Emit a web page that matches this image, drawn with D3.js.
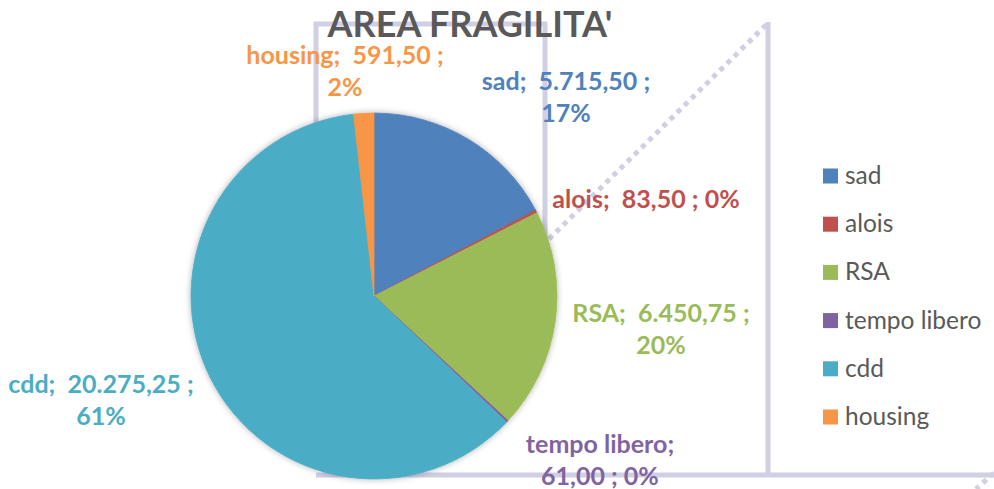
<!DOCTYPE html>
<html>
<head>
<meta charset="utf-8">
<script src="https://cdn.jsdelivr.net/npm/d3@7"></script>
<style>
  html, body { margin: 0; padding: 0; background: #fff; }
  svg { display: block; }
  text { white-space: pre; }
</style>
</head>
<body>
<svg id="chart" width="994" height="489"></svg>
<script>
// ---- data ----
const title = "AREA FRAGILITA'";
const categories = ["sad", "alois", "RSA", "tempo libero", "cdd", "housing"];
const values = [5715.50, 83.50, 6450.75, 61.00, 20275.25, 591.50];
const pctLabels = ["17%", "0%", "20%", "0%", "61%", "2%"];
const colors = ["#4F81BD", "#C0504D", "#9BBB59", "#8064A2", "#4BACC6", "#F79646"];

// ---- layout ----
const W = 994, H = 489;
const cx = 374, cy = 296, R = 183;
// label anchor offsets from pie centre (dx, first baseline dy), and how the label wraps
const labelLayout = [
  { dx: 192, dy: -206, split: "pct" },
  { dx: 272, dy: -88, split: "none" },
  { dx: 287, dy: 26, split: "pct" },
  { dx: 226, dy: 157, split: "name" },
  { dx: -273, dy: 97, split: "pct" },
  { dx: -29, dy: -232, split: "pct" }
];
const lineGap = 32;
const fontFamily = "Lato, 'Open Sans', sans-serif";

const locale = d3.formatLocale({ decimal: ",", thousands: ".", grouping: [3], currency: ["€", ""] });
const fmt = locale.format(",.2f");

const svg = d3.select("#chart");

// shadow filter
const defs = svg.append("defs");
const f = defs.append("filter").attr("id", "shadow").attr("x", "-20%").attr("y", "-20%").attr("width", "140%").attr("height", "140%");
f.append("feDropShadow").attr("dx", 0).attr("dy", 0).attr("stdDeviation", 3).attr("flood-color", "#000").attr("flood-opacity", 0.3);

// background wall/floor frame lines (decorative)
const frame = svg.append("g").attr("stroke", "#D0CFE3").attr("fill", "none").attr("stroke-width", 5);
frame.append("path").attr("d", "M316,22 V300 M314,24 H547 M545,22 V300 M768,22 V476 M316,475 H994");
frame.append("path").attr("d", "M549,239 L768,23").attr("stroke-dasharray", "5,5");
frame.append("path").attr("d", "M994,473 L976,489").attr("stroke-dasharray", "5,5");

// pie
const pie = d3.pie().sort(null).value(d => d.v);
const arcs = pie(categories.map((c, i) => ({ c, v: values[i], i })));
const arc = d3.arc().innerRadius(0).outerRadius(R);
const pg = svg.append("g").attr("transform", `translate(${cx},${cy})`);
pg.append("g").attr("filter", "url(#shadow)")
  .selectAll("path").data(arcs).enter().append("path")
  .attr("d", arc)
  .attr("fill", d => colors[d.data.i])
  .attr("stroke", d => colors[d.data.i])
  .attr("stroke-width", 0.8);

// data labels
const lg = pg.append("g").attr("font-family", fontFamily).attr("font-weight", "bold").attr("font-size", 25).attr("text-anchor", "middle");
arcs.forEach(d => {
  const i = d.data.i, L = labelLayout[i];
  const name = categories[i], val = fmt(values[i]), pct = pctLabels[i];
  let lines;
  if (L.split === "pct") lines = [`${name};  ${val} ;`, pct];
  else if (L.split === "name") lines = [`${name};`, `${val} ; ${pct}`];
  else lines = [`${name};  ${val} ; ${pct}`];
  const t = lg.append("text").attr("fill", colors[i]).attr("x", L.dx).attr("y", L.dy);
  lines.forEach((ln, k) => {
    t.append("tspan").attr("x", L.dx).attr("y", L.dy + k * lineGap).text(ln);
  });
});

// title
svg.append("text").attr("x", 470).attr("y", 37).attr("text-anchor", "middle")
  .attr("font-family", fontFamily).attr("font-weight", "bold").attr("font-size", 36)
  .attr("fill", "#595959").text(title);

// legend
const legY = d3.scalePoint().domain(categories).range([176, 417]);
const leg = svg.append("g").attr("font-family", fontFamily).attr("font-size", 24.5).attr("fill", "#595959");
categories.forEach((c, i) => {
  const y = legY(c);
  leg.append("rect").attr("x", 823).attr("y", y - 7.5).attr("width", 15).attr("height", 15).attr("fill", colors[i]);
  leg.append("text").attr("x", 845).attr("y", y + 8).text(c);
});
</script>
</body>
</html>
